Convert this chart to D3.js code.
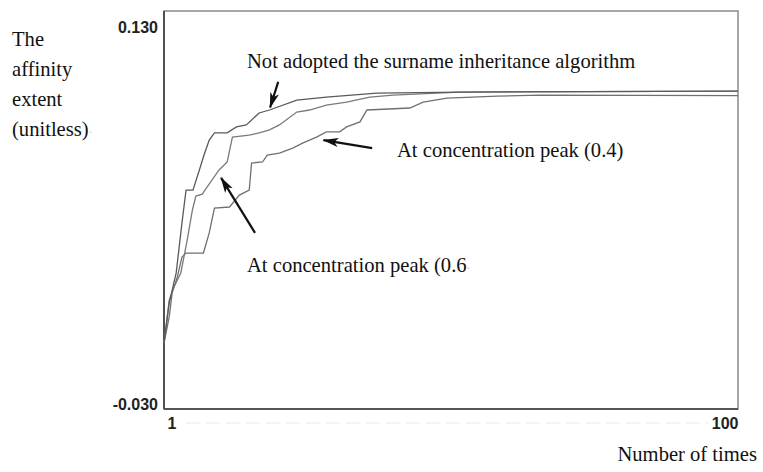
<!DOCTYPE html>
<html>
<head>
<meta charset="utf-8">
<script src="https://cdn.jsdelivr.net/npm/d3@7"></script>
<style>
  body { margin: 0; background: #fff; }
  .serif { font-family: "Liberation Serif", "Times New Roman", "DejaVu Serif", serif; font-size: 20.6px; fill: #111; }
  .tick text { font-family: "Liberation Sans Narrow", "Arial Narrow", "Liberation Sans", sans-serif; font-weight: bold; font-size: 16px; fill: #222; }
</style>
</head>
<body>
<svg id="chart" width="763" height="472"></svg>
<script>
// x: number of times, y: affinity extent
const xTicks = [1, 100];
const yTicks = [-0.030, 0.130];

const notAdoptedX = [1, 1.9, 3.1, 4.1, 4.8, 6, 7.1, 7.9, 8.8, 9.7, 11.9, 13.5, 15.2, 17.4, 19.2, 23.9, 29, 37.7, 52, 100];
const notAdoptedY = [-0.0035, 0.0126, 0.0247, 0.0448, 0.058, 0.058, 0.0661, 0.0721, 0.0781, 0.081, 0.081, 0.0834, 0.0842, 0.089, 0.0902, 0.0942, 0.0954, 0.097, 0.0974, 0.0978];

const peak06X = [1, 1.9, 2.7, 3.9, 5, 5.9, 6.5, 7.6, 8.3, 10.5, 11.9, 12.8, 15.7, 17.4, 19.2, 20.9, 23.9, 26.1, 29, 32.5, 36.5, 40.5, 52, 100];
const peak06Y = [-0.0035, 0.0138, 0.019, 0.0247, 0.0379, 0.05, 0.0556, 0.0564, 0.0588, 0.0661, 0.0693, 0.0793, 0.0801, 0.081, 0.0822, 0.0842, 0.0894, 0.0902, 0.0922, 0.0934, 0.0954, 0.0962, 0.0974, 0.0978];

const peak04X = [1, 1.9, 2.4, 3.3, 4.1, 4.8, 7.8, 8.8, 9.7, 12.3, 14, 15.7, 16.1, 18, 18.8, 20.9, 23.2, 24.9, 27.3, 29, 31.3, 32.5, 34.8, 36, 43.4, 45.7, 49.8, 58.5, 65.9, 100];
const peak04Y = [-0.0035, 0.007, 0.0166, 0.0231, 0.0311, 0.0327, 0.0327, 0.0408, 0.0508, 0.0512, 0.056, 0.058, 0.0689, 0.0693, 0.0721, 0.0729, 0.0749, 0.0769, 0.0793, 0.0814, 0.0814, 0.0834, 0.0854, 0.0902, 0.091, 0.0934, 0.095, 0.0958, 0.0962, 0.096];

const yLabelLines = ['The', 'affinity', 'extent', '(unitless)'];

const svg = d3.select('#chart');
const margin = {left: 164, top: 11, right: 25, bottom: 63};
const width = 763 - margin.left - margin.right;
const height = 472 - margin.top - margin.bottom;

const xScale = d3.scaleLinear().domain([1, 100]).range([0, width]);
const yScale = d3.scaleLinear().domain([-0.03, 0.13]).range([height, 0]);

const chart = svg.append('g')
    .attr('transform', `translate(${margin.left},${margin.top})`);

// faint dashed baseline under the plot
chart.append('line')
    .attr('x1', 22).attr('x2', width - 30)
    .attr('y1', height + 14).attr('y2', height + 14)
    .attr('stroke', '#e8e8e8')
    .attr('stroke-dasharray', '14,6');

// frame
chart.append('rect')
    .attr('x', 0).attr('y', 0)
    .attr('width', width).attr('height', height)
    .attr('fill', 'none')
    .attr('stroke', '#8a8a8a')
    .attr('stroke-width', 1.5);
chart.append('line')
    .attr('x1', 0).attr('x2', 0).attr('y1', 0).attr('y2', height)
    .attr('stroke', '#333').attr('stroke-width', 1.5);
chart.append('line')
    .attr('x1', 0).attr('x2', width).attr('y1', height).attr('y2', height)
    .attr('stroke', '#555').attr('stroke-width', 2);

// axes: only the end values are labelled
const yAxis = d3.axisLeft(yScale)
    .tickValues(yTicks)
    .tickSize(0)
    .tickPadding(6)
    .tickFormat(d => d3.format('.3f')(d).replace('−', '-'));
chart.append('g')
    .call(yAxis)
    .call(g => g.select('.domain').remove())
    .selectAll('text')
    .attr('dy', d => d === 0.13 ? '1.35em' : '0em');

const xAxis = d3.axisBottom(xScale)
    .tickValues(xTicks)
    .tickSize(0)
    .tickPadding(9)
    .tickFormat(d3.format('d'));
chart.append('g')
    .attr('transform', `translate(0,${height})`)
    .call(xAxis)
    .call(g => g.select('.domain').remove())
    .selectAll('text')
    .attr('text-anchor', d => d === 1 ? 'start' : 'end')
    .attr('dx', d => d === 1 ? 3 : 0);

// curves
const line = d3.line()
    .x(d => xScale(d[0]))
    .y(d => yScale(d[1]));

const series = [
  {xs: peak04X, ys: peak04Y, color: '#707070'},
  {xs: peak06X, ys: peak06Y, color: '#7a7a7a'},
  {xs: notAdoptedX, ys: notAdoptedY, color: '#5a5a5a'}
];
chart.selectAll('.curve')
    .data(series)
  .join('path')
    .attr('class', 'curve')
    .attr('d', s => line(d3.zip(s.xs, s.ys)))
    .attr('fill', 'none')
    .attr('stroke', s => s.color)
    .attr('stroke-width', 1.3);

// arrows
svg.append('defs').append('marker')
    .attr('id', 'head')
    .attr('viewBox', '0 0 16 10')
    .attr('refX', 15).attr('refY', 5)
    .attr('markerWidth', 16).attr('markerHeight', 10)
    .attr('orient', 'auto')
    .attr('markerUnits', 'userSpaceOnUse')
  .append('path')
    .attr('d', 'M0,0.5 L16,5 L0,9.5 L4,5 Z')
    .attr('fill', '#111');

const arrows = [
  {from: [20.7, 0.1015], to: [19.3, 0.0912]},
  {from: [36.9, 0.0749], to: [28.5, 0.0781]},
  {from: [16.7, 0.0408], to: [10.85, 0.0629]}
];
chart.selectAll('.arrow')
    .data(arrows)
  .join('line')
    .attr('class', 'arrow')
    .attr('x1', d => xScale(d.from[0])).attr('y1', d => yScale(d.from[1]))
    .attr('x2', d => xScale(d.to[0])).attr('y2', d => yScale(d.to[1]))
    .attr('stroke', '#111')
    .attr('stroke-width', 2.2)
    .attr('marker-end', 'url(#head)');

// annotations
svg.append('text').attr('class', 'serif')
    .attr('x', 247).attr('y', 68)
    .text('Not adopted the surname inheritance algorithm');
svg.append('text').attr('class', 'serif')
    .attr('x', 397).attr('y', 157)
    .text('At concentration peak (0.4)');
const t06 = svg.append('text').attr('class', 'serif')
    .attr('x', 247).attr('y', 272)
    .text('At concentration peak (0.6');
t06.append('tspan').attr('fill', '#bbb').attr('font-size', 12).text('·');

// y axis title
const yTitle = svg.append('text').attr('class', 'serif');
yTitle.selectAll('tspan')
    .data(yLabelLines)
  .join('tspan')
    .attr('x', 12)
    .attr('y', (d, i) => 46 + i * 30)
    .text(d => d);
yTitle.append('tspan').attr('fill', '#bbb').attr('font-size', 12).text('·');

// x axis title
svg.append('text').attr('class', 'serif')
    .attr('x', 757).attr('y', 461)
    .attr('text-anchor', 'end')
    .text('Number of times');
</script>
</body>
</html>
